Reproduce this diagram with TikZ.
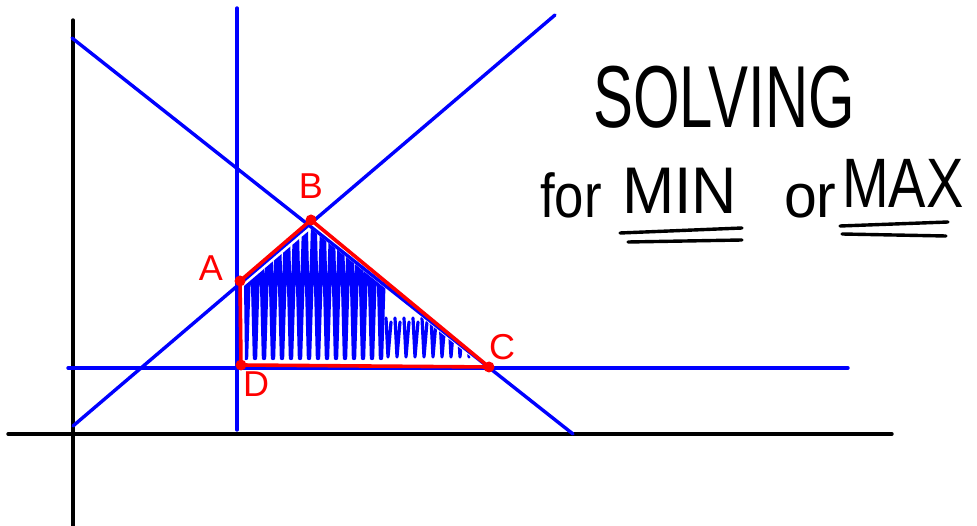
\documentclass[tikz,border=0pt]{standalone}
\usepackage{fontspec}
\setmainfont{Liberation Sans}
\begin{document}
\begin{tikzpicture}[x=1pt,y=-1pt,
  axis/.style={black,line width=3.4pt,line cap=round},
  bline/.style={blue,line width=3.4pt,line cap=round},
  rline/.style={red,line width=3.6pt,line join=round},
  scrib/.style={blue,line width=4.4pt,line cap=round,line join=round},
  vdot/.style={circle,fill=red,inner sep=0pt,minimum size=11pt},
  vlab/.style={text=red,font=\fontsize{36}{36}\selectfont},
  hw/.style={text=black,inner sep=0pt}]
\useasboundingbox (0,0) rectangle (977,526);
% axes
\coordinate (yt) at (73,20); \coordinate (yb) at (73,526);
\coordinate (xl) at (8,434); \coordinate (xr) at (892,434);
\draw[axis] (yt) -- (yb);
\draw[axis] (xl) -- (xr);
% blue constraint lines
\coordinate (v1) at (237,8); \coordinate (v2) at (237,430);
\coordinate (h1) at (68,368); \coordinate (h2) at (848,368);
\coordinate (d1) at (72,38); \coordinate (d2) at (573,434);
\coordinate (u1) at (73,426); \coordinate (u2) at (555,15);
\draw[bline] (v1) -- (v2);
\draw[bline] (h1) -- (h2);
\draw[bline] (d1) -- (d2);
\draw[bline] (u1) -- (u2);
% vertices
\coordinate (A) at (240,281);
\coordinate (B) at (311,220);
\coordinate (C) at (489,367);
\coordinate (D) at (241,365);
% scribble fill
\begin{scope}
\clip (244,286) -- (311,229) -- (481,365) -- (245,361) -- cycle;
\draw[scrib] (242,200)
  \foreach \x in {242,251,...,377} { -- (\x+4,358) -- (\x+9,200) };
\foreach \x in {386,395,...,480} {
  \draw[scrib,line width=3.2pt] (\x,318) -- (\x+2,357) -- (\x+5,322);
}
\end{scope}
% red feasible region
\draw[rline] (A) -- (B) -- (C) -- (D) -- cycle;
\node[vdot] (pA) at (A) {};
\node[vdot] (pB) at (B) {};
\node[vdot] (pC) at (C) {};
\node[vdot] (pD) at (D) {};
\node[vlab] (lA) at (211,268) {A};
\node[vlab] (lB) at (311,186) {B};
\node[vlab] (lC) at (502,347) {C};
\node[vlab] (lD) at (256,384) {D};
% title text
\node[hw,anchor=base west] (t1) at (593,128) {\scalebox{0.68}[1]{\fontsize{88}{88}\selectfont SOLVING}};
\node[hw,anchor=base west] (t2) at (540,218) {\scalebox{0.85}[1]{\fontsize{62}{62}\selectfont for}};
\node[hw,anchor=base west] (t3) at (622,214) {\scalebox{0.95}[1]{\fontsize{66}{66}\selectfont MIN}};
\node[hw,anchor=base west] (t4) at (784,218) {\scalebox{0.95}[1]{\fontsize{62}{62}\selectfont or}};
\node[hw,anchor=base west] (t5) at (842,208) {\scalebox{0.8}[1]{\fontsize{70}{70}\selectfont MAX}};
% underlines
\coordinate (m1) at (620,233); \coordinate (m2) at (742,228);
\coordinate (m3) at (628,242); \coordinate (m4) at (742,240);
\coordinate (x1) at (840,226); \coordinate (x2) at (948,222);
\coordinate (x3) at (842,234); \coordinate (x4) at (946,236);
\draw[axis] (m1) -- (m2);
\draw[axis] (m3) -- (m4);
\draw[axis] (x1) -- (x2);
\draw[axis] (x3) -- (x4);
\end{tikzpicture}
\end{document}
